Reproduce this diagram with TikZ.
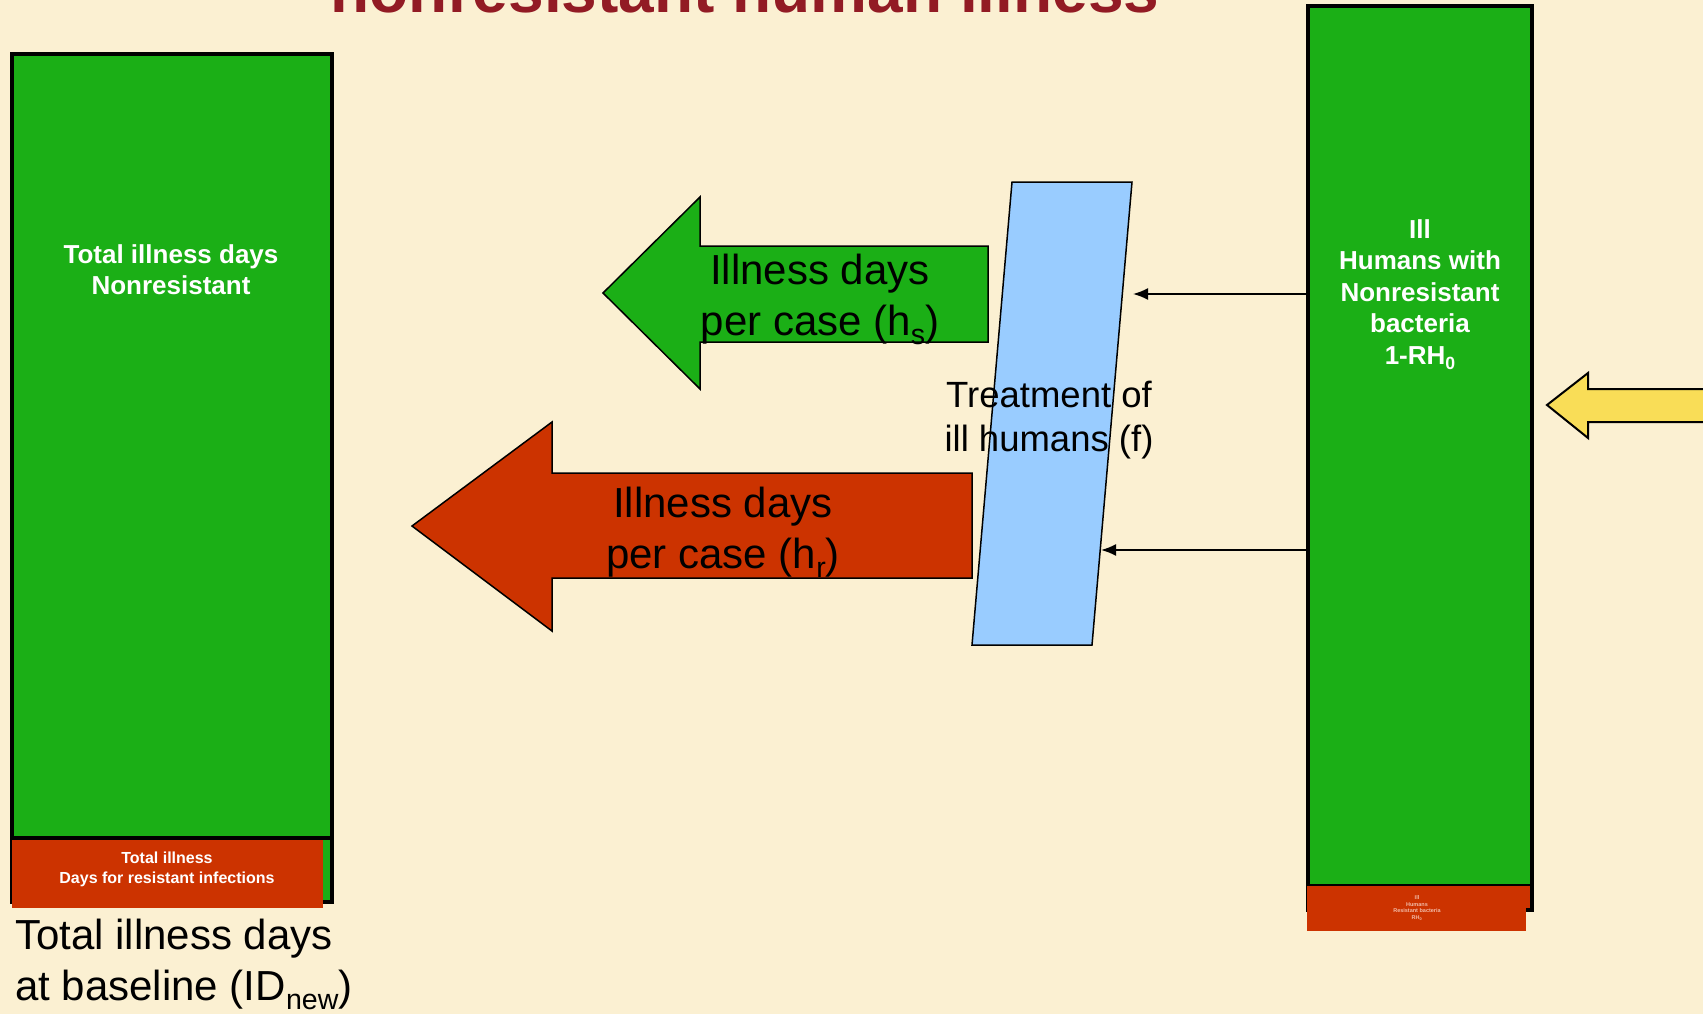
\documentclass[tikz,border=0pt]{standalone}
\usepackage{fontspec}
\setmainfont{Liberation Sans}
\usetikzlibrary{arrows.meta}
\definecolor{parch}{HTML}{FBF0D2}
\definecolor{leaf}{HTML}{1BAF16}
\definecolor{rust}{HTML}{CC3300}
\definecolor{sky}{HTML}{99CCFF}
\definecolor{sun}{HTML}{F9DD57}
\definecolor{wine}{HTML}{921B24}
\definecolor{blush}{HTML}{F2BBA8}
\newcommand{\lowsub}[1]{\raisebox{-0.2em}{\scalebox{0.68}{#1}}}
\tikzset{
  bigtext/.style={font=\fontsize{42}{51}\selectfont,align=center},
  boxtext/.style={text=white,font=\bfseries\fontsize{26}{31.5}\selectfont,align=center},
  frame/.style={draw=black,line width=4pt},
  fatarrow/.style={draw=black,line width=1.5pt,line join=miter},
  feed/.style={-{Latex[length=15pt,width=12pt]},line width=1.8pt}
}
\begin{document}
\begin{tikzpicture}[x=1pt,y=-1pt,every node/.style={inner sep=0pt}]
  \fill[parch] (0,0) rectangle (1703,1014);
  \useasboundingbox (0,0) rectangle (1703,1014);
  \node[text=wine,font=\bfseries\fontsize{64}{70}\selectfont,anchor=base] (title) at (745,13) {nonresistant human illness};
  \draw[frame,fill=leaf] (12,54) rectangle (332,902);
  \draw[line width=4pt] (12,838) -- (332,838);
  \fill[rust] (12,840) rectangle (323,908);
  \node[boxtext,anchor=north] (nonres) at (171,244) {Total illness days\\Nonresistant};
  \node[text=white,font=\bfseries\fontsize{16}{19.5}\selectfont,align=center,anchor=north] (resdays) at (167,852) {Total illness\\Days for resistant infections};
  \node[bigtext,align=left,anchor=north west] (baseline) at (15,919) {Total illness days\\at baseline (ID\lowsub{new})};
  \node[frame,fill=leaf,minimum width=224pt,minimum height=904pt] (ill) at (1420,458) {};
  \draw[line width=3pt] (1308,885) -- (1532,885);
  \fill[rust] (1307,886) rectangle (1530,908);
  \fill[rust] (1307,886) rectangle (1526,931);
  \node[boxtext,anchor=north] (nonbact) at (1420,219) {Ill\\Humans with\\Nonresistant\\bacteria\\1-RH\lowsub{0}};
  \node[text=blush,font=\bfseries\fontsize{5.5}{6.5}\selectfont,align=center] (resbact) at (1417,908) {Ill\\Humans\\Resistant bacteria\\RH\textsubscript{0}};
  \draw[fatarrow,fill=leaf] (603,293) -- (700,197) -- (700,246) -- (988,246) -- (988,342) -- (700,342) -- (700,389) -- cycle;
  \draw[fatarrow,fill=rust] (412,526) -- (552,422) -- (552,473) -- (972,473) -- (972,578) -- (552,578) -- (552,631) -- cycle;
  \coordinate (tnw) at (1012,182);
  \coordinate (tne) at (1132,182);
  \coordinate (tse) at (1092,645);
  \coordinate (tsw) at (972,645);
  \draw[fill=sky,line width=1.5pt] (tnw) -- (tne) -- (tse) -- (tsw) -- cycle;
  \node[bigtext,anchor=north] (hs) at (820,254) {Illness days\\per case (h\lowsub{s})};
  \node[bigtext,anchor=north] (hr) at (723,487) {Illness days\\per case (h\lowsub{r})};
  \node[font=\fontsize{36.5}{43.5}\selectfont,align=center,anchor=north] (treat) at (1049,381) {Treatment of\\ill humans (f)};
  \coordinate (hsin) at (1133,294);
  \coordinate (hrin) at (1101,550);
  \draw[feed] (ill.west |- hsin) -- (hsin);
  \draw[feed] (ill.west |- hrin) -- (hrin);
  \draw[fatarrow,line width=2pt,fill=sun] (1547,405) -- (1588,373) -- (1588,389) -- (1710,389) -- (1710,422) -- (1588,422) -- (1588,438) -- cycle;
\end{tikzpicture}
\end{document}
